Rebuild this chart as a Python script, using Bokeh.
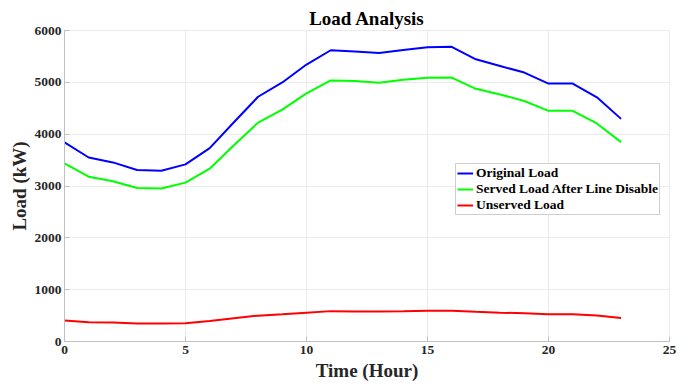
from bokeh.plotting import figure
from bokeh.models import Legend, LegendItem, Range1d, FixedTicker
from bokeh.embed import file_html
from bokeh.resources import INLINE

hours = list(range(24))
original_load = [3840, 3550, 3455, 3310, 3296, 3417, 3731, 4230, 4722, 4998, 5343, 5619,
                 5594, 5565, 5626, 5677, 5685, 5444, 5316, 5188, 4976, 4976, 4710, 4295]
served_load = [3436, 3180, 3090, 2963, 2950, 3065, 3334, 3785, 4223, 4472, 4787, 5036,
               5024, 4992, 5050, 5087, 5092, 4875, 4767, 4640, 4450, 4450, 4207, 3846]
unserved_load = [404, 372, 365, 348, 346, 354, 397, 448, 499, 526, 556, 586,
                 580, 578, 584, 592, 594, 572, 556, 546, 526, 526, 503, 452]

x_ticks = [0, 5, 10, 15, 20, 25]
y_ticks = [0, 1000, 2000, 3000, 4000, 5000, 6000]

FONT = "Liberation Serif"

p = figure(width=694, height=388, output_backend="svg", toolbar_location=None,
           x_range=Range1d(0, 25), y_range=Range1d(0, 6000),
           title="Load Analysis",
           min_border_left=64, min_border_right=25, min_border_top=30, min_border_bottom=47)

p.title.text_font = FONT
p.title.text_font_size = "19px"
p.title.text_font_style = "bold"
p.title.align = "center"
p.title.text_color = "#000000"
p.title.offset = 0
p.title.standoff = 4

l1 = p.line(hours, original_load, line_color="#0000ff", line_width=2)
l2 = p.line(hours, served_load, line_color="#00ff00", line_width=2)
l3 = p.line(hours, unserved_load, line_color="#ff0000", line_width=2)

p.xaxis.ticker = FixedTicker(ticks=x_ticks)
p.yaxis.ticker = FixedTicker(ticks=y_ticks)
p.xaxis.axis_label = "Time (Hour)"
p.yaxis.axis_label = "Load (kW)"
for ax in (p.xaxis, p.yaxis):
    ax.axis_label_text_font = FONT
    ax.axis_label_text_font_style = "bold"
    ax.axis_label_text_font_size = "19px"
    ax.axis_label_text_color = "#262626"
    ax.major_label_text_font = FONT
    ax.major_label_text_font_style = "bold"
    ax.major_label_text_font_size = "13.5px"
    ax.major_label_text_color = "#262626"
    ax.axis_line_color = "#c0c0c0"
    ax.major_tick_line_color = "#c0c0c0"
    ax.major_tick_in = 5
    ax.major_tick_out = 0
    ax.minor_tick_line_color = None
p.xaxis.major_label_standoff = 4
p.xaxis.axis_label_standoff = 3
p.yaxis.major_label_standoff = 3
p.yaxis.axis_label_standoff = 2

p.xgrid.grid_line_color = "#ebebeb"
p.ygrid.grid_line_color = "#ebebeb"
p.outline_line_color = "#ebebeb"
p.background_fill_color = "white"
p.border_fill_color = "white"

legend = Legend(items=[
    LegendItem(label="Original Load", renderers=[l1]),
    LegendItem(label="Served Load After Line Disable", renderers=[l2]),
    LegendItem(label="Unserved Load", renderers=[l3]),
], location=(391, 126))
legend.label_text_font = FONT
legend.label_text_font_style = "bold"
legend.label_text_font_size = "13.5px"
legend.label_text_color = "#000000"
legend.label_height = 16
legend.glyph_width = 16
legend.glyph_height = 16
legend.spacing = 0
legend.padding = 1
legend.margin = 0
legend.label_standoff = 3
legend.border_line_color = "#a0a0a0"
legend.border_line_width = 1
legend.background_fill_alpha = 1
p.add_layout(legend)

open("out.html", "w").write(file_html(p, INLINE))
